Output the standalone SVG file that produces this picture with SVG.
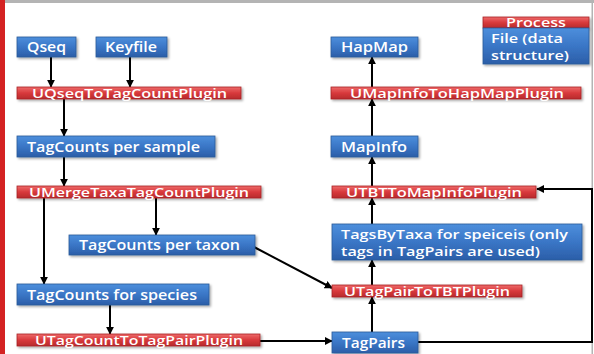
<svg xmlns="http://www.w3.org/2000/svg" width="594" height="354" viewBox="0 0 594 354">
<defs>
<linearGradient id="gb" x1="0" y1="0" x2="0" y2="1">
<stop offset="0" stop-color="#4d8fdc"/>
<stop offset="0.5" stop-color="#3a76c6"/>
<stop offset="1" stop-color="#2b5ea8"/>
</linearGradient>
<linearGradient id="gr" x1="0" y1="0" x2="0" y2="1">
<stop offset="0" stop-color="#ee6a6a"/>
<stop offset="0.5" stop-color="#d83a3c"/>
<stop offset="1" stop-color="#b82a2c"/>
</linearGradient>
<filter id="sh" x="-10%" y="-30%" width="120%" height="180%">
<feDropShadow dx="1.5" dy="1.5" stdDeviation="1" flood-color="#000" flood-opacity="0.35"/>
</filter>
<marker id="ah" viewBox="0 0 10 10" refX="9" refY="5" markerWidth="4" markerHeight="4" orient="auto" markerUnits="strokeWidth">
<path d="M0,0 L10,5 L0,10 z" fill="#000"/>
</marker>
<style>
.b{fill:url(#gb);stroke:#2c5a98;stroke-width:0.8;filter:url(#sh)}
.r{fill:url(#gr);stroke:#a82226;stroke-width:0.8;filter:url(#sh)}
.t{font-family:"Open Sans","DejaVu Sans",sans-serif;font-weight:600;fill:#fff;font-size:13.5px}
.m{font-family:"Open Sans","DejaVu Sans",sans-serif;font-weight:600;fill:#fff;font-size:12.5px}
.s{font-family:"Open Sans","DejaVu Sans",sans-serif;font-weight:600;fill:#fff;font-size:12px}
.c{fill:none;stroke:#000;stroke-width:2}
.a{marker-end:url(#ah)}
</style>
</defs>
<rect x="0" y="0" width="594" height="354" fill="#fff"/>
<rect x="0" y="0" width="594" height="3" fill="#b4b4b4"/>
<rect x="591.5" y="0" width="1.5" height="354" fill="#b4b4b4"/>
<rect x="0" y="0" width="5" height="354" fill="#d42222"/>

<g id="connectors">
<line class="c a" x1="51" y1="57" x2="51" y2="87"/>
<line class="c a" x1="130" y1="57" x2="130" y2="87"/>
<line class="c a" x1="64" y1="99" x2="64" y2="136"/>
<line class="c a" x1="64" y1="157" x2="64" y2="186"/>
<line class="c a" x1="44" y1="198" x2="44" y2="284"/>
<line class="c a" x1="156" y1="198" x2="156" y2="235"/>
<line class="c a" x1="110" y1="305" x2="110" y2="334"/>
<line class="c a" x1="260" y1="341" x2="332" y2="341"/>
<line class="c a" x1="254" y1="247" x2="332" y2="288"/>
<line class="c a" x1="372" y1="332" x2="372" y2="297"/>
<line class="c a" x1="372" y1="285" x2="372" y2="260"/>
<line class="c a" x1="372" y1="224" x2="372" y2="198"/>
<line class="c a" x1="372" y1="186" x2="372" y2="157"/>
<line class="c a" x1="372" y1="136" x2="372" y2="99"/>
<line class="c a" x1="372" y1="87" x2="372" y2="57"/>
<polyline class="c a" points="418,342 592,342 592,189 537,189"/>
</g>

<g id="qseq"><rect class="b" x="17" y="37" width="59" height="20"/><text class="t" x="27" y="52" textLength="39" lengthAdjust="spacingAndGlyphs">Qseq</text></g>
<g id="keyfile"><rect class="b" x="96" y="37" width="71" height="20"/><text class="t" x="105" y="52" textLength="52" lengthAdjust="spacingAndGlyphs">Keyfile</text></g>
<g id="uqseq"><rect class="r" x="17" y="87" width="224" height="12"/><text class="s" x="32" y="97.5" textLength="195" lengthAdjust="spacingAndGlyphs">UQseqToTagCountPlugin</text></g>
<g id="tcsample"><rect class="b" x="17" y="136" width="198" height="21"/><text class="t" x="27" y="151.5" textLength="173" lengthAdjust="spacingAndGlyphs">TagCounts per sample</text></g>
<g id="umerge"><rect class="r" x="17" y="186" width="244" height="12"/><text class="s" x="29" y="196.5" textLength="220" lengthAdjust="spacingAndGlyphs">UMergeTaxaTagCountPlugin</text></g>
<g id="tctaxon"><rect class="b" x="69" y="235" width="186" height="20"/><text class="t" x="79" y="250" textLength="161" lengthAdjust="spacingAndGlyphs">TagCounts per taxon</text></g>
<g id="tcspecies"><rect class="b" x="17" y="284" width="192" height="21"/><text class="t" x="27" y="299.5" textLength="170" lengthAdjust="spacingAndGlyphs">TagCounts for species</text></g>
<g id="utagcount"><rect class="r" x="17" y="334" width="243" height="12"/><text class="s" x="35" y="344.5" textLength="208" lengthAdjust="spacingAndGlyphs">UTagCountToTagPairPlugin</text></g>
<g id="tagpairs"><rect class="b" x="332" y="332" width="86" height="21"/><text class="t" x="342" y="347.5" textLength="63" lengthAdjust="spacingAndGlyphs">TagPairs</text></g>
<g id="utagpair"><rect class="r" x="332" y="285" width="190" height="12"/><text class="s" x="344" y="295.5" textLength="166" lengthAdjust="spacingAndGlyphs">UTagPairToTBTPlugin</text></g>
<g id="tagsbytaxa"><rect class="b" x="332" y="224" width="250" height="36"/><text class="m" x="341" y="238.5" textLength="227" lengthAdjust="spacingAndGlyphs">TagsByTaxa for speiceis (only</text><text class="m" x="341" y="255.5" textLength="199" lengthAdjust="spacingAndGlyphs">tags in TagPairs are used)</text></g>
<g id="utbt"><rect class="r" x="332" y="186" width="204" height="12"/><text class="s" x="346" y="196.5" textLength="176" lengthAdjust="spacingAndGlyphs">UTBTToMapInfoPlugin</text></g>
<g id="mapinfo"><rect class="b" x="331" y="136" width="87" height="21"/><text class="t" x="341" y="151.5" textLength="66" lengthAdjust="spacingAndGlyphs">MapInfo</text></g>
<g id="umapinfo"><rect class="r" x="331" y="87" width="250" height="12"/><text class="s" x="350" y="97.5" textLength="214" lengthAdjust="spacingAndGlyphs">UMapInfoToHapMapPlugin</text></g>
<g id="hapmap"><rect class="b" x="331" y="37" width="87" height="20"/><text class="t" x="341" y="52" textLength="67" lengthAdjust="spacingAndGlyphs">HapMap</text></g>
<g id="legend-process"><rect class="r" x="483" y="17" width="106" height="11"/><text class="s" x="506" y="27" textLength="60" lengthAdjust="spacingAndGlyphs">Process</text></g>
<g id="legend-file"><rect class="b" x="483" y="28" width="106" height="36"/><text class="m" x="491" y="43" textLength="72" lengthAdjust="spacingAndGlyphs">File (data</text><text class="m" x="491" y="60" textLength="78" lengthAdjust="spacingAndGlyphs">structure)</text></g>
</svg>
